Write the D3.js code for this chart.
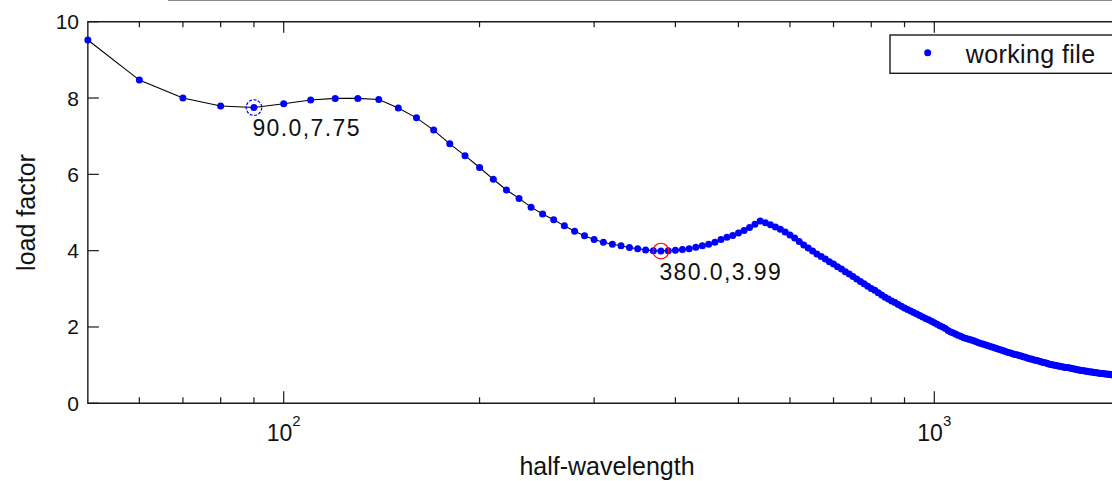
<!DOCTYPE html>
<html>
<head>
<meta charset="utf-8">
<script src="https://cdn.jsdelivr.net/npm/d3@7"></script>
<style>
  html, body { margin: 0; padding: 0; background: #fff; }
  svg { display: block; font-family: "Liberation Sans", Arial, Helvetica, sans-serif; }
</style>
</head>
<body>
<svg id="chart" width="1112" height="481"></svg>
<script>
// half-wavelength samples (x) and the load factor computed for each (y)
const halfWavelength = [
  50,60,70,80,90,100,110,120,130,140,150,160,170,180,190,200,210,220,230,240,
  250,260,270,280,290,300,310,320,330,340,350,360,370,380,390,400,410,420,430,440,
  450,460,470,480,490,500,510,520,530,540,550,560,570,580,590,600,610,620,630,640,
  650,660,670,680,690,700,710,720,730,740,750,760,770,780,790,800,810,820,830,840,
  850,860,870,880,890,900,910,920,930,940,950,960,970,980,990,1000,
  1010,1020,1030,1040,1050,1060,1070,1080,1090,1100,1110,1120,1130,1140,1150,1160,1170,1180,1190,1200,
  1210,1220,1230,1240,1250,1260,1270,1280,1290,1300,1310,1320,1330,1340,1350,1360,1370,1380,1390,1400,
  1410,1420,1430,1440,1450,1460,1470,1480,1490,1500,1510,1520,1530,1540,1550,1560,1570,1580,1590,1600,
  1610,1620,1630,1640,1650,1660,1670,1680,1690,1700,1710,1720,1730,1740,1750,1760,1770,1780,1790,1800,
  1810,1820,1830,1840,1850,1860,1870,1880,1890,1900,1910,1920,1930,1940,1950,1960,1970,1980,1990,2000
];
const loadFactor = [
  9.52,8.47,8.00,7.79,7.75,7.85,7.95,7.99,7.99,7.96,7.74,7.48,7.16,6.80,6.49,6.18,5.87,5.59,5.37,5.14,
  4.96,4.81,4.65,4.51,4.39,4.29,4.22,4.17,4.13,4.08,4.05,4.02,4.00,3.99,4.00,4.01,4.03,4.05,4.09,4.13,
  4.17,4.22,4.29,4.35,4.40,4.46,4.53,4.61,4.69,4.78,4.73,4.68,4.62,4.56,4.49,4.41,4.33,4.24,4.15,4.07,
  3.99,3.91,3.85,3.78,3.71,3.65,3.58,3.52,3.45,3.39,3.32,3.26,3.19,3.13,3.07,3.01,2.96,2.90,2.84,2.78,
  2.73,2.68,2.64,2.59,2.54,2.50,2.46,2.42,2.38,2.34,2.30,2.26,2.22,2.19,2.15,2.11,
  2.07,2.03,2.00,1.96,1.91,1.87,1.84,1.81,1.78,1.75,1.72,1.70,1.68,1.66,1.64,1.61,1.59,1.57,1.55,1.53,
  1.51,1.49,1.47,1.45,1.43,1.41,1.39,1.37,1.35,1.33,1.32,1.30,1.28,1.27,1.25,1.24,1.22,1.21,1.19,1.17,
  1.16,1.14,1.13,1.12,1.10,1.09,1.07,1.06,1.05,1.03,1.02,1.01,1.00,0.99,0.98,0.97,0.96,0.95,0.94,0.94,
  0.93,0.92,0.91,0.90,0.89,0.88,0.87,0.86,0.86,0.85,0.84,0.84,0.83,0.82,0.82,0.81,0.80,0.80,0.79,0.79,
  0.78,0.78,0.77,0.77,0.76,0.76,0.75,0.75,0.74,0.74,0.73,0.73,0.72,0.72,0.71,0.71,0.70,0.70,0.69,0.69
];

// highlighted samples with their data-tip text
const markedX = [90, 380];
const markedY = [7.75, 3.99];
const markedLabels = ["90.0,7.75", "380.0,3.99"];
const markedColors = ["#0000ff", "#ff0000"];

// axis ticks
const yTicks = [0, 2, 4, 6, 8, 10];
const xMajorTicks = [100, 1000];
const xMajorExponents = ["2", "3"];
const xMinorTicks = [60, 70, 80, 90, 200, 300, 400, 500, 600, 700, 800, 900, 2000];

const xDomain = [50, 2000];
const yDomain = [0, 10];
const seriesName = "working file";
const xTitle = "half-wavelength";
const yTitle = "load factor";

const data = halfWavelength.map((d, i) => ({ x: d, y: loadFactor[i] }));

const svg = d3.select("#chart");
const W = 1112, H = 481;
const plotLeft = 87.85, plotRight = 1130.15, plotTop = 21.7, plotBottom = 403.3;

const x = d3.scaleLog().domain(xDomain).range([plotLeft, plotRight]);
const y = d3.scaleLinear().domain(yDomain).range([plotBottom, plotTop]);

svg.append("rect").attr("width", W).attr("height", H).attr("fill", "#fff");

// thin grey edge of the window strip above the axes
svg.append("line")
  .attr("x1", 168).attr("x2", W).attr("y1", 0.5).attr("y2", 0.5)
  .attr("stroke", "#8a8a8a").attr("stroke-width", 1.2);

const axisColor = "#1a1a1a";
const frame = svg.append("g").attr("stroke", axisColor).attr("stroke-width", 1.4).attr("fill", "none");
frame.append("path")
  .attr("d", `M${plotRight},${plotTop}H${plotLeft}V${plotBottom}H${plotRight}`);

// x ticks on bottom (pointing up) and top (pointing down)
const xt = svg.append("g").attr("stroke", axisColor).attr("stroke-width", 1.2);
xMajorTicks.forEach(t => {
  xt.append("line").attr("x1", x(t)).attr("x2", x(t)).attr("y1", plotBottom).attr("y2", plotBottom - 12);
  xt.append("line").attr("x1", x(t)).attr("x2", x(t)).attr("y1", plotTop).attr("y2", plotTop + 11);
});
xMinorTicks.forEach(t => {
  xt.append("line").attr("x1", x(t)).attr("x2", x(t)).attr("y1", plotBottom).attr("y2", plotBottom - 6);
  xt.append("line").attr("x1", x(t)).attr("x2", x(t)).attr("y1", plotTop).attr("y2", plotTop + 5.5);
});

// y ticks
const yt = svg.append("g").attr("stroke", axisColor).attr("stroke-width", 1.2);
yTicks.forEach(t => {
  yt.append("line").attr("x1", plotLeft).attr("x2", plotLeft + 11).attr("y1", y(t)).attr("y2", y(t));
});

const textColor = "#111";
svg.append("g").selectAll("text").data(yTicks).join("text")
  .attr("x", 79).attr("y", d => y(d) + 7.5)
  .attr("text-anchor", "end")
  .attr("font-size", 21).attr("fill", textColor)
  .text(d => d);

// x tick labels: powers of ten
xMajorTicks.forEach((t, i) => {
  const g = svg.append("text")
    .attr("x", x(t)).attr("y", 441)
    .attr("text-anchor", "middle")
    .attr("font-size", 23).attr("fill", textColor);
  g.append("tspan").text("10");
  g.append("tspan").attr("font-size", 15).attr("dy", -15).text(xMajorExponents[i]);
});

// axis titles
svg.append("text")
  .attr("x", (plotLeft + plotRight) / 2 - 2).attr("y", 475)
  .attr("text-anchor", "middle")
  .attr("font-size", 25).attr("fill", textColor)
  .text(xTitle);

svg.append("text")
  .attr("transform", `translate(35,${(plotTop + plotBottom) / 2}) rotate(-90)`)
  .attr("text-anchor", "middle")
  .attr("font-size", 25).attr("fill", textColor)
  .text(yTitle);

// connecting line and sample dots
const line = d3.line().x(d => x(d.x)).y(d => y(d.y));
svg.append("path")
  .datum(data)
  .attr("d", line)
  .attr("fill", "none")
  .attr("stroke", "#000")
  .attr("stroke-width", 1.1);

svg.append("g").selectAll("circle").data(data).join("circle")
  .attr("cx", d => x(d.x)).attr("cy", d => y(d.y))
  .attr("r", 3.5)
  .attr("fill", "#0000ff");

// data tips
markedX.forEach((mx, i) => {
  svg.append("circle")
    .attr("cx", x(mx)).attr("cy", y(markedY[i]))
    .attr("r", 7.8)
    .attr("fill", "none")
    .attr("stroke", markedColors[i])
    .attr("stroke-width", 1.2)
    .attr("stroke-dasharray", i === 0 ? "3,1.5" : null);
  svg.append("text")
    .attr("x", x(mx) - 1.5).attr("y", y(markedY[i]) + 28.5)
    .attr("font-size", 23).attr("fill", textColor)
    .attr("letter-spacing", 1.4)
    .text(markedLabels[i]);
});

// legend
const legend = svg.append("g");
legend.append("rect")
  .attr("x", 890).attr("y", 35).attr("width", 260).attr("height", 38.3)
  .attr("fill", "#fff").attr("stroke", axisColor).attr("stroke-width", 1.4);
legend.append("circle").attr("cx", 927.7).attr("cy", 52.7).attr("r", 3.5).attr("fill", "#0000ff");
legend.append("text")
  .attr("x", 965.7).attr("y", 63.3)
  .attr("font-size", 25).attr("fill", textColor)
  .attr("letter-spacing", 0.4)
  .text(seriesName);
</script>
</body>
</html>
